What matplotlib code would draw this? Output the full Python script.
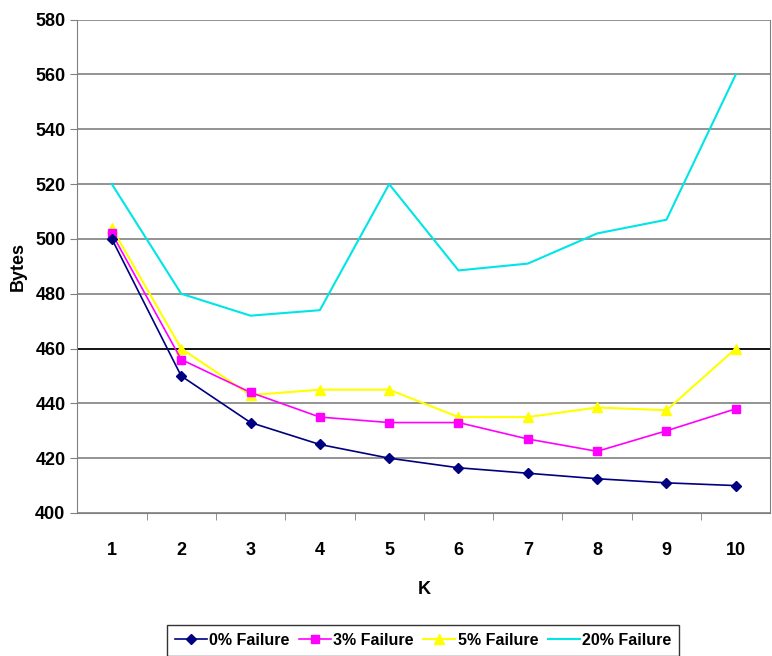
import matplotlib.pyplot as plt

k_values = [1, 2, 3, 4, 5, 6, 7, 8, 9, 10]
fail_0 = [500, 450, 433, 425, 420, 416.5, 414.5, 412.5, 411, 410]
fail_3 = [502, 456, 444, 435, 433, 433, 427, 422.5, 430, 438]
fail_5 = [504, 460, 443, 445, 445, 435, 435, 438.5, 437.5, 460]
fail_20 = [520, 480, 472, 474, 520, 488.5, 491, 502, 507, 560]

plt.rcParams['font.family'] = ['Liberation Sans', 'DejaVu Sans']
plt.rcParams['font.weight'] = 'bold'

fig = plt.figure(figsize=(7.72, 6.56), dpi=100)
ax = fig.add_axes([0.1, 0.218, 0.898, 0.752])

for y in range(400, 581, 20):
    ax.axhline(y, color='black' if y == 460 else '#8a8a8a', lw=1.3, zorder=1)

ax.plot(k_values, fail_0, color='#000080', marker='D', ms=5, lw=1.2, label='0% Failure', zorder=5)
ax.plot(k_values, fail_3, color='#ff00ff', marker='s', ms=6, lw=1.2, label='3% Failure', zorder=4)
ax.plot(k_values, fail_5, color='#ffff00', marker='^', ms=7, lw=1.5, label='5% Failure', zorder=3)
ax.plot(k_values, fail_20, color='#00e5e5', lw=1.5, label='20% Failure', zorder=2)

ax.set_xlim(0.5, 10.5)
ax.set_ylim(400, 580)
ax.set_yticks(range(400, 581, 20))
ax.set_xticks(k_values)
ax.set_xticks([x + 0.5 for x in k_values[:-1]], minor=True)
ax.tick_params(axis='x', which='major', length=0, pad=21, labelsize=13)
ax.tick_params(axis='x', which='minor', length=5, color='#808080')
ax.tick_params(axis='y', length=5, color='#808080', labelsize=13)

for side in ['left', 'bottom', 'right']:
    ax.spines[side].set_color('#808080')
ax.spines['top'].set_visible(False)

ax.set_xlabel('K', fontsize=13, fontweight='bold', labelpad=16)
ax.set_ylabel('Bytes', fontsize=13, fontweight='bold', labelpad=6)

leg = fig.legend(loc='lower center', bbox_to_anchor=(0.548, -0.012), ncol=4, fontsize=11.5,
                 frameon=True, fancybox=False, edgecolor='black', handlelength=2.0,
                 columnspacing=0.6, handletextpad=0.15, borderpad=0.5)
leg.get_frame().set_linewidth(1.0)

fig.savefig('out.png', dpi=100)
